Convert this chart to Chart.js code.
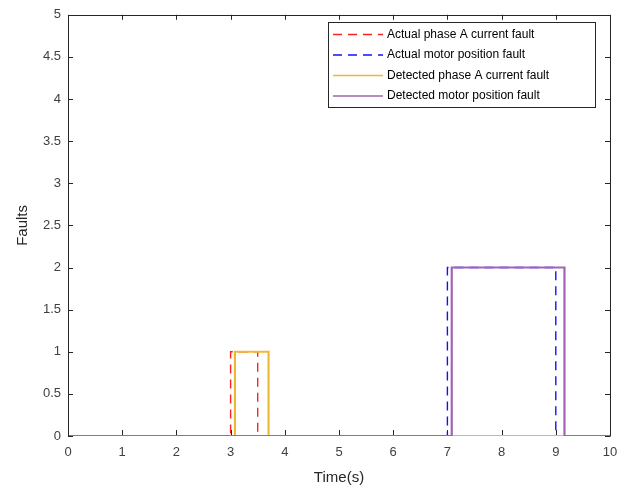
<!DOCTYPE html>
<html><head><meta charset="utf-8">
<script src="https://cdn.jsdelivr.net/npm/chart.js@4.4.0/dist/chart.umd.min.js"></script>
<style>html,body{margin:0;padding:0;background:#fff}#wrap{width:636px;height:491px}</style>
</head><body><div id="wrap"><canvas id="c" width="636" height="491"></canvas></div>
<script>
// Data (step signals)
const actualA_t = [0, 3, 3, 3.5, 3.5, 10];
const actualA_v = [0, 0, 1, 1, 0, 0];
const actualM_t = [0, 7, 7, 9, 9, 10];
const actualM_v = [0, 0, 2, 2, 0, 0];
const detA_t = [0, 3.08, 3.08, 3.7, 3.7, 10];
const detA_v = [0, 0, 1, 1, 0, 0];
const detM_t = [0, 7.08, 7.08, 9.16, 9.16, 10];
const detM_v = [0, 0, 2, 2, 0, 0];
const seriesLabels = ['Actual phase A current fault','Actual motor position fault','Detected phase A current fault','Detected motor position fault'];
const xTicks = [0,1,2,3,4,5,6,7,8,9,10];
const yTicks = [0,0.5,1,1.5,2,2.5,3,3.5,4,4.5,5];

const pts = (t,v)=>t.map((x,i)=>({x:x,y:v[i]}));
const FONT = 'Liberation Sans, Arial, sans-serif';
const AX = '#262626';
const TXT = '#404040';

const boxPlugin = {
  id:'box',
  afterDatasetsDraw(chart){
    const {ctx, chartArea:a, scales:{x,y}} = chart;
    ctx.save();
    ctx.strokeStyle = AX; ctx.lineWidth = 1;
    ctx.beginPath();
    ctx.moveTo(Math.round(a.left)+0.5, Math.round(a.bottom)+0.5);
    ctx.lineTo(Math.round(a.left)+0.5, Math.round(a.top)+0.5);
    ctx.lineTo(Math.round(a.right)+0.5, Math.round(a.top)+0.5);
    ctx.lineTo(Math.round(a.right)+0.5, Math.round(a.bottom)+0.5);
    ctx.stroke();
    const tl = 5;
    ctx.beginPath();
    xTicks.forEach(v=>{const px=Math.round(x.getPixelForValue(v))+0.5;
      ctx.moveTo(px,a.bottom-1); ctx.lineTo(px,a.bottom-1-tl);
      ctx.moveTo(px,a.top); ctx.lineTo(px,a.top+tl);});
    yTicks.forEach(v=>{const py=Math.round(y.getPixelForValue(v))+0.5;
      ctx.moveTo(a.left,py); ctx.lineTo(a.left+tl,py);
      ctx.moveTo(a.right,py); ctx.lineTo(a.right-tl,py);});
    ctx.stroke();
    // legend
    const L=328, T=22, R=595, B=107;
    ctx.fillStyle='#fff'; ctx.fillRect(L,T,R-L,B-T);
    ctx.strokeStyle=AX; ctx.lineWidth=1;
    ctx.strokeRect(L+0.5,T+0.5,R-L,B-T);
    const rows=[34.5,55,75.5,96];
    ctx.font='12px '+FONT; ctx.textBaseline='middle'; ctx.fillStyle='#000';
    chart.data.datasets.forEach((ds,i)=>{
      ctx.save();
      ctx.strokeStyle=ds.borderColor; ctx.lineWidth=1.3;
      ctx.setLineDash(ds.borderDash||[]);
      ctx.beginPath(); ctx.moveTo(333,rows[i]); ctx.lineTo(383,rows[i]); ctx.stroke();
      ctx.restore();
      ctx.fillText(ds.label,387,rows[i]);
    });
    ctx.restore();
  }
};

new Chart(document.getElementById('c'),{
  type:'line',
  data:{datasets:[
    {label:seriesLabels[0],data:pts(actualA_t,actualA_v),borderColor:'#ff2020',borderDash:[9,6],borderWidth:1.4,order:4},
    {label:seriesLabels[1],data:pts(actualM_t,actualM_v),borderColor:'#1010ff',borderDash:[9,6],borderWidth:1.4,order:3},
    {label:seriesLabels[2],data:pts(detA_t,detA_v),borderColor:'#F0B935',borderWidth:2.2,order:2},
    {label:seriesLabels[3],data:pts(detM_t,detM_v),borderColor:'#A264B2',borderWidth:2.2,order:1}
  ]},
  options:{
    responsive:false, animation:false, devicePixelRatio:1,
    elements:{point:{radius:0},line:{tension:0}},
    layout:{padding:{top:8,right:26,left:0,bottom:0}},
    plugins:{legend:{display:false},tooltip:{enabled:false}},
    scales:{
      x:{type:'linear',min:0,max:10,
        afterFit(s){s.height=55;},
        afterBuildTicks(s){s.ticks=xTicks.map(v=>({value:v}));},
        grid:{display:false,drawTicks:false},border:{display:false},
        ticks:{color:TXT,font:{family:FONT,size:13},padding:9,maxRotation:0,callback:v=>String(v)},
        title:{display:true,text:'Time(s)',color:AX,font:{family:FONT,size:15},padding:{top:0,bottom:4}}},
      y:{type:'linear',min:0,max:5,
        afterFit(s){s.width=68;},
        afterBuildTicks(s){s.ticks=yTicks.map(v=>({value:v}));},
        grid:{display:false,drawTicks:false},border:{display:false},
        ticks:{color:TXT,font:{family:FONT,size:13},padding:7,callback:v=>String(v)},
        title:{display:true,text:'Faults',color:AX,font:{family:FONT,size:15},padding:{top:14,bottom:0}}}
    }
  },
  plugins:[boxPlugin]
});
</script></body></html>
